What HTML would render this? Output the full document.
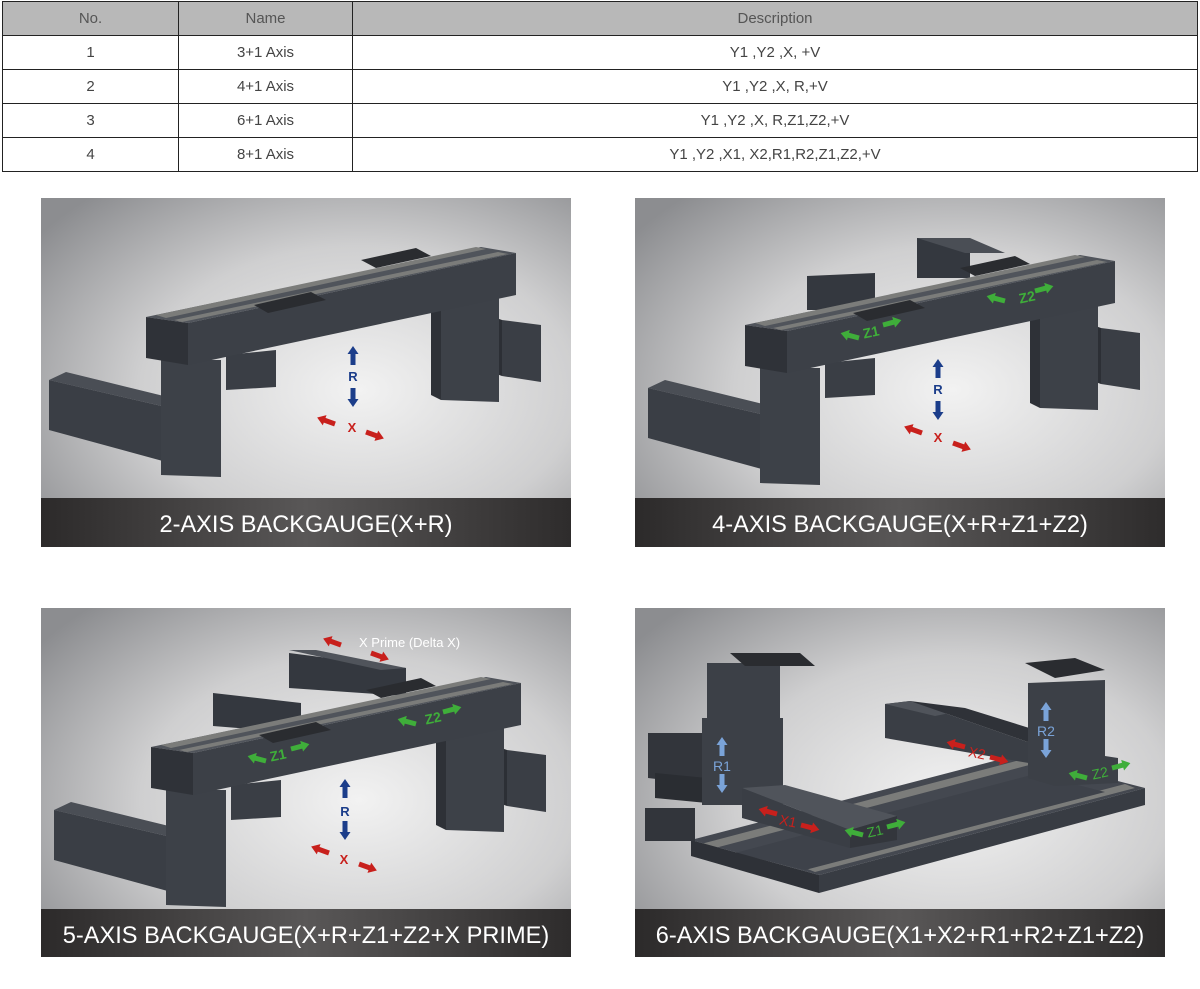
<!DOCTYPE html>
<html><head><meta charset="utf-8"><style>
html,body{margin:0;padding:0;background:#fff;width:1200px;height:989px;overflow:hidden;font-family:"Liberation Sans",Arial,sans-serif}
table{position:absolute;left:2px;top:1px;width:1196px;border-collapse:collapse;font-size:15px;color:#444}
td,th{border:1px solid #222;text-align:center;height:33px;padding:0;font-weight:normal}
th{background:#b8b8b8;color:#555;height:33px}
.p{position:absolute;width:530px;height:349px}
</style></head><body>
<table>
<tr><th style="width:175px">No.</th><th style="width:173px">Name</th><th>Description</th></tr>
<tr><td>1</td><td>3+1 Axis</td><td>Y1 ,Y2 ,X, +V</td></tr>
<tr><td>2</td><td>4+1 Axis</td><td>Y1 ,Y2 ,X, R,+V</td></tr>
<tr><td>3</td><td>6+1 Axis</td><td>Y1 ,Y2 ,X, R,Z1,Z2,+V</td></tr>
<tr><td>4</td><td>8+1 Axis</td><td>Y1 ,Y2 ,X1, X2,R1,R2,Z1,Z2,+V</td></tr>
</table>

<svg width="0" height="0" style="position:absolute">
<defs>
<radialGradient id="bg" cx="0.6" cy="0.55" r="0.75">
<stop offset="0" stop-color="#f2f2f2"/><stop offset="0.55" stop-color="#cfcfd0"/><stop offset="1" stop-color="#8c8d90"/>
</radialGradient>
<linearGradient id="cap" x1="0" x2="1">
<stop offset="0" stop-color="#2c2a2a"/><stop offset="0.5" stop-color="#595757"/><stop offset="1" stop-color="#2e2c2c"/>
</linearGradient>
<path id="ar" d="M0,-2.5 L11,-2.5 L11,-5.5 L19,0 L11,5.5 L11,2.5 L0,2.5Z"/>
<g id="frame">
 <polygon points="466,130 505,135 505,192 466,186" fill="#3a3e45"/>
 <polygon points="455,126 466,130 466,186 455,182" fill="#2c2f35"/>
 <polygon points="405,100 463,95 463,212 405,210" fill="#3d4148"/>
 <polygon points="395,98 405,100 405,210 395,205" fill="#2e3137"/>
 <polygon points="190,165 240,160 240,197 190,200" fill="#3a3e45"/>
 <polygon points="13,190 30,182 185,220 178,228" fill="#4a4e55"/>
 <polygon points="13,190 178,228 178,285 13,240" fill="#3a3e45"/>
 <polygon points="125,170 185,170 185,287 125,285" fill="#3d4148"/>
 <polygon points="110,127 152,133 480,63 445,57" fill="#50545b"/>
 <polygon points="120,125 440,57 450,59 130,128" fill="#7b7c7a"/>
 <polygon points="138,130 462,62 472,64 146,132" fill="#7b7c7a"/>
 <polygon points="152,133 480,63 480,105 152,175" fill="#3c4047"/>
 <polygon points="110,127 152,133 152,175 110,168" fill="#2f3238"/>
 <polygon points="218,115 275,102 290,110 232,123" fill="#2a2c30"/>
 <polygon points="325,70 380,58 395,66 340,78" fill="#2a2c30"/>
</g>
</defs>
</svg>

<!-- Panel 1 -->
<svg class="p" style="left:41px;top:198px" viewBox="0 0 530 349">
<rect width="530" height="349" fill="url(#bg)"/>
<use href="#frame" transform="translate(-5,-8)"/>
<g fill="#1b3d8a"><use href="#ar" transform="translate(312,167) rotate(-90)"/><use href="#ar" transform="translate(312,190) rotate(90)"/></g>
<text x="312" y="183" fill="#1b3d8a" font-size="13" font-weight="bold" text-anchor="middle">R</text>
<g fill="#c8201c"><use href="#ar" transform="translate(294,226) rotate(200)"/><use href="#ar" transform="translate(325,234) rotate(20)"/></g>
<text x="311" y="234" fill="#c8201c" font-size="13" font-weight="bold" text-anchor="middle">X</text>
<rect y="300" width="530" height="49" fill="url(#cap)"/>
<text x="265" y="334" fill="#fff" font-size="23.6" text-anchor="middle">2-AXIS BACKGAUGE(X+R)</text>
</svg>

<!-- Panel 2 -->
<svg class="p" style="left:635px;top:198px" viewBox="0 0 530 349">
<rect width="530" height="349" fill="url(#bg)"/>
<polygon points="282,40 335,40 335,80 282,80" fill="#34383f"/>
<polygon points="282,40 335,40 370,55 330,55" fill="#4a4e55"/>
<polygon points="172,78 240,75 240,112 172,112" fill="#34383f"/>
<use href="#frame"/>
<g fill="#3fae3a"><use href="#ar" transform="translate(224,140) rotate(195)"/><use href="#ar" transform="translate(248,127) rotate(-15)"/>
<use href="#ar" transform="translate(370,103) rotate(195)"/><use href="#ar" transform="translate(400,93) rotate(-15)"/></g>
<text x="236" y="139" fill="#3fae3a" font-size="14" font-weight="bold" text-anchor="middle" transform="rotate(-12 236 134)">Z1</text>
<text x="392" y="104" fill="#3fae3a" font-size="14" font-weight="bold" text-anchor="middle" transform="rotate(-12 392 99)">Z2</text>
<g fill="#1b3d8a"><use href="#ar" transform="translate(303,180) rotate(-90)"/><use href="#ar" transform="translate(303,203) rotate(90)"/></g>
<text x="303" y="196" fill="#1b3d8a" font-size="13" font-weight="bold" text-anchor="middle">R</text>
<g fill="#c8201c"><use href="#ar" transform="translate(287,235) rotate(200)"/><use href="#ar" transform="translate(318,245) rotate(20)"/></g>
<text x="303" y="244" fill="#c8201c" font-size="13" font-weight="bold" text-anchor="middle">X</text>
<rect y="300" width="530" height="49" fill="url(#cap)"/>
<text x="265" y="334" fill="#fff" font-size="23.6" text-anchor="middle">4-AXIS BACKGAUGE(X+R+Z1+Z2)</text>
</svg>

<!-- Panel 3 -->
<svg class="p" style="left:41px;top:608px" viewBox="0 0 530 349">
<rect width="530" height="349" fill="url(#bg)"/>
<polygon points="248,45 365,60 365,88 248,80" fill="#34383f"/>
<polygon points="248,42 275,42 365,60 340,62" fill="#50545b"/>
<polygon points="172,85 260,95 260,125 172,118" fill="#34383f"/>
<use href="#frame" transform="translate(0,12)"/>
<g fill="#3fae3a"><use href="#ar" transform="translate(225,153) rotate(195)"/><use href="#ar" transform="translate(250,141) rotate(-15)"/>
<use href="#ar" transform="translate(375,116) rotate(195)"/><use href="#ar" transform="translate(402,104) rotate(-15)"/></g>
<text x="237" y="152" fill="#3fae3a" font-size="14" font-weight="bold" text-anchor="middle" transform="rotate(-12 237 147)">Z1</text>
<text x="392" y="115" fill="#3fae3a" font-size="14" font-weight="bold" text-anchor="middle" transform="rotate(-12 392 110)">Z2</text>
<g fill="#1b3d8a"><use href="#ar" transform="translate(304,190) rotate(-90)"/><use href="#ar" transform="translate(304,213) rotate(90)"/></g>
<text x="304" y="208" fill="#1b3d8a" font-size="13" font-weight="bold" text-anchor="middle">R</text>
<g fill="#c8201c"><use href="#ar" transform="translate(288,245) rotate(200)"/><use href="#ar" transform="translate(318,256) rotate(20)"/>
<use href="#ar" transform="translate(300,37) rotate(200)"/><use href="#ar" transform="translate(330,45) rotate(20)"/></g>
<text x="303" y="256" fill="#c8201c" font-size="13" font-weight="bold" text-anchor="middle">X</text>
<text x="318" y="39" fill="#fff" font-size="13">X Prime (Delta X)</text>
<rect y="301" width="530" height="48" fill="url(#cap)"/>
<text x="265" y="335" fill="#fff" font-size="23.6" text-anchor="middle">5-AXIS BACKGAUGE(X+R+Z1+Z2+X PRIME)</text>
</svg>

<!-- Panel 4 -->
<svg class="p" style="left:635px;top:608px" viewBox="0 0 530 349">
<rect width="530" height="349" fill="url(#bg)"/>
<!-- base slab -->
<polygon points="56,232 382,147 510,180 184,267" fill="#444850"/>
<polygon points="66,236 385,152 398,156 80,240" fill="#7b7c7a"/>
<polygon points="170,260 490,176 500,180 180,264" fill="#7b7c7a"/>
<polygon points="100,245 400,166 470,184 170,262" fill="#3e424a"/>
<polygon points="184,267 510,180 510,197 184,285" fill="#383c43"/>
<polygon points="56,232 184,267 184,285 56,248" fill="#2e3137"/>
<!-- X2 beam -->
<polygon points="250,96 275,93 410,140 405,157 250,130" fill="#3a3e45"/>
<polygon points="250,96 275,93 320,104 300,108" fill="#50545b"/>
<polygon points="275,93 330,100 420,128 410,140" fill="#2f3238"/>
<!-- R2 tower -->
<polygon points="393,75 470,72 470,148 483,150 483,175 420,178 393,170" fill="#3c4047"/>
<polygon points="390,55 440,50 470,62 420,70" fill="#2a2c30"/>
<!-- motors -->
<polygon points="13,125 72,125 72,177 13,170" fill="#32353b"/>
<polygon points="10,200 60,200 60,233 10,233" fill="#32353b"/>
<polygon points="20,165 72,170 72,195 20,190" fill="#2a2d32"/>
<!-- R1 tower -->
<polygon points="72,55 145,55 145,110 148,110 148,197 67,197 67,110 72,110" fill="#3c4047"/>
<polygon points="95,45 165,45 180,58 110,58" fill="#2a2c30"/>
<!-- X1 beam -->
<polygon points="107,180 150,177 262,208 215,222" fill="#50545b"/>
<polygon points="107,180 215,222 215,240 107,210" fill="#3a3e45"/>
<polygon points="215,222 262,208 262,232 215,240" fill="#33363c"/>
<g fill="#7aa3d8"><use href="#ar" transform="translate(87,148) rotate(-90)"/><use href="#ar" transform="translate(87,166) rotate(90)"/>
<use href="#ar" transform="translate(411,113) rotate(-90)"/><use href="#ar" transform="translate(411,131) rotate(90)"/></g>
<text x="87" y="163" fill="#7aa3d8" font-size="14" text-anchor="middle">R1</text>
<text x="411" y="128" fill="#7aa3d8" font-size="14" text-anchor="middle">R2</text>
<g fill="#c8201c"><use href="#ar" transform="translate(142,206) rotate(195)"/><use href="#ar" transform="translate(166,217) rotate(15)"/>
<use href="#ar" transform="translate(330,139) rotate(195)"/><use href="#ar" transform="translate(355,149) rotate(15)"/></g>
<text x="153" y="218" fill="#c8201c" font-size="14" text-anchor="middle" transform="rotate(12 153 213)">X1</text>
<text x="342" y="150" fill="#c8201c" font-size="14" text-anchor="middle" transform="rotate(12 342 145)">X2</text>
<g fill="#3fae3a"><use href="#ar" transform="translate(228,227) rotate(195)"/><use href="#ar" transform="translate(252,219) rotate(-15)"/>
<use href="#ar" transform="translate(452,170) rotate(195)"/><use href="#ar" transform="translate(477,160) rotate(-15)"/></g>
<text x="240" y="228" fill="#3fae3a" font-size="14" text-anchor="middle" transform="rotate(-12 240 223)">Z1</text>
<text x="465" y="170" fill="#3fae3a" font-size="14" text-anchor="middle" transform="rotate(-12 465 165)">Z2</text>
<rect y="301" width="530" height="48" fill="url(#cap)"/>
<text x="265" y="335" fill="#fff" font-size="23.6" text-anchor="middle">6-AXIS BACKGAUGE(X1+X2+R1+R2+Z1+Z2)</text>
</svg>
</body></html>
